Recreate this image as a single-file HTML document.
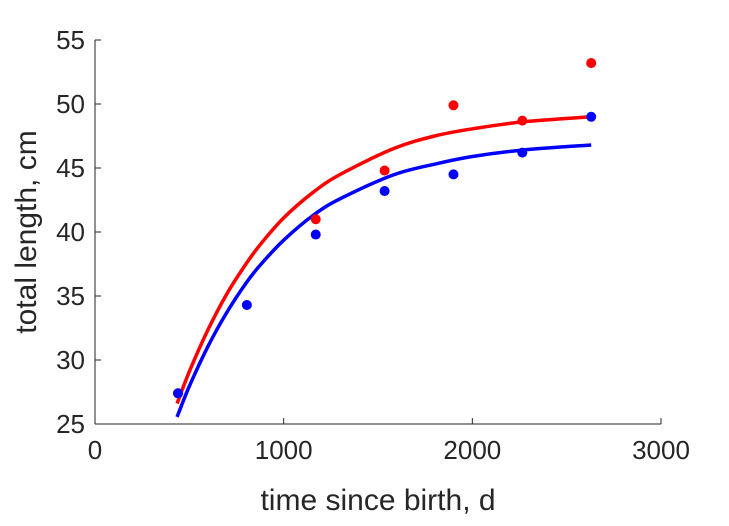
<!DOCTYPE html>
<html><head><meta charset="utf-8"><style>
body{margin:0;background:#fff;width:729px;height:521px;overflow:hidden}
text{font-family:"Liberation Sans",sans-serif;fill:#262626}
</style></head><body>
<svg id="chart" width="729" height="521" xmlns="http://www.w3.org/2000/svg">
<g id="axes"></g>
<g id="series"></g>
<text x="378" y="510" font-size="30" text-anchor="middle">time since birth, d</text>
<text transform="translate(36,232) rotate(-90)" font-size="30" text-anchor="middle">total length, cm</text>
</svg>
<script>
const xTicks=[0,1000,2000,3000];
const yTicks=[25,30,35,40,45,50,55];
const redDaysObs=[440,1170,1535,1900,2265,2630];
const redLenObs=[27.4,41.0,44.8,49.9,48.7,53.2];
const blueDaysObs=[440,805,1170,1535,1900,2265,2630];
const blueLenObs=[27.4,34.3,39.8,43.2,44.5,46.2,49.0];
const redFitDays=[435,500,600,700,800,875,1000,1156,1300,1580,1800,2000,2265,2630];
const redFitLen=[26.6,29.1,32.4,35.2,37.5,39.0,41.1,43.1,44.5,46.5,47.5,48.06,48.6,49.0];
const blueFitDays=[435,500,600,700,800,875,1000,1156,1300,1580,1800,2000,2265,2630];
const blueFitLen=[25.55,27.95,31.1,33.75,36.0,37.4,39.36,41.3,42.6,44.45,45.3,45.9,46.4,46.8];

const X0=95,X1=661,Y0=424,Y1=40;
const sx=v=>X0+(v-0)/3000*(X1-X0);
const sy=v=>Y0-(v-25)/30*(Y0-Y1);
const NS="http://www.w3.org/2000/svg";
const axes=document.getElementById('axes'),ser=document.getElementById('series');
function mk(t,a,p){const e=document.createElementNS(NS,t);for(const k in a)e.setAttribute(k,a[k]);p.appendChild(e);return e;}
let l=mk('line',{x1:X0,y1:Y0,x2:X1,y2:Y0,stroke:'#262626','stroke-width':1},axes);

l=mk('line',{x1:X0,y1:Y0,x2:X0,y2:Y1,stroke:'#262626','stroke-width':1},axes);

xTicks.forEach(v=>{
 const t=mk('line',{x1:sx(v),y1:Y0,x2:sx(v),y2:Y0-6,stroke:'#262626'},axes);
 
 
 const tx=mk('text',{x:sx(v),y:Y0+35,'font-size':26,'text-anchor':'middle'},axes);tx.textContent=v;
 
 
});
yTicks.forEach(v=>{
 const t=mk('line',{x1:X0,y1:sy(v),x2:X0+6,y2:sy(v),stroke:'#262626'},axes);
 
 
 const tx=mk('text',{x:X0-10,y:sy(v)+9,'font-size':26,'text-anchor':'end'},axes);tx.textContent=v;
 
 
});
function curve(xs,ys,col,name){
 const p=xs.map((x,i)=>[sx(x),sy(ys[i])]);
 let d='M'+p[0][0]+','+p[0][1];
 for(let i=0;i<p.length-1;i++){
  const a=p[Math.max(0,i-1)],b=p[i],c=p[i+1],e=p[Math.min(p.length-1,i+2)];
  const c1=[b[0]+(c[0]-a[0])/6,b[1]+(c[1]-a[1])/6],c2=[c[0]-(e[0]-b[0])/6,c[1]-(e[1]-b[1])/6];
  d+=' C'+c1+' '+c2+' '+c;
 }
 const el=mk('path',{d:d,fill:'none',stroke:col,'stroke-width':3.5},ser);
 
 
}
function dots(xs,ys,col,name){
 xs.forEach((x,i)=>{
  const c=mk('circle',{cx:sx(x),cy:sy(ys[i]),r:5,fill:col},ser);
  
  
 });
}
curve(redFitDays,redFitLen,'#ff0000','red-fit-curve');
curve(blueFitDays,blueFitLen,'#0000ff','blue-fit-curve');
dots(redDaysObs,redLenObs,'#ff0000','red-data-point');
dots(blueDaysObs,blueLenObs,'#0000ff','blue-data-point');
</script>
</body></html>
